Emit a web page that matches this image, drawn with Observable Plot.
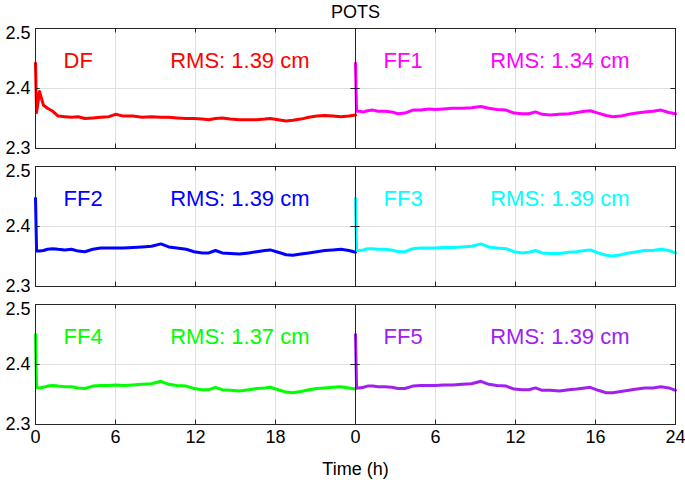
<!DOCTYPE html>
<html><head><meta charset="utf-8">
<script src="https://cdn.jsdelivr.net/npm/d3@7"></script>
<script src="https://cdn.jsdelivr.net/npm/@observablehq/plot@0.6"></script>
<style>body{margin:0;background:#fff;}</style>
</head><body><div id="chart"></div>
<script>
const seriesNames = ["DF", "FF1", "FF2", "FF3", "FF4", "FF5"];
const seriesColors = ["#ff0000", "#ff00ff", "#0000ff", "#00ffff", "#00ff00", "#a020f0"];
const rmsLabels = ["1.39", "1.34", "1.39", "1.39", "1.37", "1.39"];
const panelRow = [0, 0, 1, 1, 2, 2];
const panelCol = [0, 1, 0, 1, 0, 1];

const hours = [0, 0.08, 0.3, 0.6, 0.9, 1.3, 1.7, 2.2, 2.7, 3.2,
  3.7, 4.3, 4.9, 5.5, 6.0, 6.6, 7.3, 8.0, 8.7, 9.4,
  10.0, 10.6, 11.3, 11.9, 12.5, 13.0, 13.5, 14.0, 14.6, 15.3,
  16.0, 16.6, 17.2, 17.6, 18.2, 18.8, 19.3, 19.9, 20.5, 21.1,
  21.7, 22.3, 22.9, 23.5, 24];

const DF = [2.442, 2.36, 2.395, 2.372, 2.367, 2.362, 2.354, 2.353, 2.352, 2.353,
  2.35, 2.351, 2.352, 2.353, 2.357, 2.354, 2.354, 2.352, 2.353, 2.352,
  2.352, 2.351, 2.35, 2.35, 2.349, 2.348, 2.35, 2.351, 2.349, 2.348,
  2.348, 2.348, 2.349, 2.35, 2.348, 2.346, 2.347, 2.349, 2.352, 2.354,
  2.355, 2.354, 2.353, 2.354, 2.356];
const FF1 = [2.442, 2.362, 2.362, 2.361, 2.363, 2.364, 2.362, 2.362, 2.361, 2.358,
  2.359, 2.364, 2.364, 2.366, 2.365, 2.366, 2.367, 2.367, 2.368, 2.37,
  2.367, 2.365, 2.364, 2.359, 2.358, 2.358, 2.361, 2.357, 2.356, 2.357,
  2.358, 2.36, 2.362, 2.363, 2.359, 2.355, 2.353, 2.354, 2.357, 2.359,
  2.361, 2.362, 2.364, 2.36, 2.358];
const FF2 = [2.447, 2.359, 2.359, 2.36, 2.362, 2.363, 2.362, 2.361, 2.362, 2.359,
  2.358, 2.362, 2.364, 2.364, 2.364, 2.364, 2.365, 2.366, 2.367, 2.371,
  2.366, 2.364, 2.362, 2.358, 2.356, 2.356, 2.36, 2.356, 2.355, 2.354,
  2.356, 2.358, 2.36, 2.361, 2.357, 2.353, 2.352, 2.354, 2.356, 2.358,
  2.36, 2.361, 2.362, 2.36, 2.357];
const FF3 = [2.447, 2.36, 2.36, 2.361, 2.363, 2.363, 2.362, 2.362, 2.361, 2.358,
  2.358, 2.363, 2.364, 2.364, 2.364, 2.365, 2.365, 2.366, 2.367, 2.371,
  2.366, 2.364, 2.363, 2.358, 2.356, 2.357, 2.36, 2.356, 2.355, 2.355,
  2.357, 2.358, 2.36, 2.361, 2.356, 2.352, 2.351, 2.353, 2.356, 2.358,
  2.36, 2.36, 2.362, 2.36, 2.356];
const FF4 = [2.45, 2.362, 2.361, 2.362, 2.364, 2.365, 2.364, 2.363, 2.363, 2.361,
  2.36, 2.364, 2.365, 2.365, 2.366, 2.365, 2.366, 2.367, 2.368, 2.372,
  2.367, 2.365, 2.364, 2.36, 2.358, 2.358, 2.362, 2.358, 2.357, 2.356,
  2.358, 2.36, 2.361, 2.362, 2.358, 2.354, 2.353, 2.355, 2.358, 2.36,
  2.361, 2.362, 2.363, 2.361, 2.359];
const FF5 = [2.45, 2.361, 2.361, 2.362, 2.364, 2.364, 2.363, 2.363, 2.362, 2.36,
  2.36, 2.364, 2.365, 2.365, 2.365, 2.366, 2.366, 2.367, 2.368, 2.372,
  2.367, 2.365, 2.364, 2.359, 2.358, 2.358, 2.361, 2.357, 2.357, 2.356,
  2.358, 2.359, 2.361, 2.362, 2.357, 2.353, 2.353, 2.355, 2.357, 2.359,
  2.361, 2.361, 2.363, 2.361, 2.357];
const seriesValues = [DF, FF1, FF2, FF3, FF4, FF5];

const yTicksLower = [2.3, 2.4];
const yTicksUpper = [2.5];
const xTicks = [0, 6, 12, 18, 24, 30, 36, 42, 48];
const xTickLabels = ["0", "6", "12", "18", "0", "6", "12", "16", "24"];
const gridX = [6, 12, 18, 30, 36, 42];

const points = seriesNames.flatMap((name, i) => hours.map((h, j) => ({
  series: name, row: panelRow[i], x: h + 24 * panelCol[i], y: seriesValues[i][j]
})));
const labels = seriesNames.flatMap((name, i) => [
  {series: name, row: panelRow[i], x: 2.1 + 24 * panelCol[i], y: 2.446, text: name},
  {series: name, row: panelRow[i], x: 10.1 + 24 * panelCol[i], y: 2.446, text: `RMS: ${rmsLabels[i]} cm`}
]);

const tickLenY = 0.0075;
const tickLenX = 0.35;
const ySegs = [{x1: 0, x2: tickLenX}, {x1: 24 - tickLenX, x2: 24 + tickLenX}, {x1: 48 - tickLenX, x2: 48}];
const axisColor = "#262626";
const gridColor = "#e0e0e0";

const chart = Plot.plot({
  width: 685, height: 482,
  marginLeft: 35, marginRight: 10, marginTop: 27, marginBottom: 58,
  style: {fontFamily: "'Liberation Sans', Arial, Helvetica, sans-serif", fontSize: "17px", color: axisColor, background: "#fff"},
  x: {domain: [0, 48]},
  y: {domain: [2.3, 2.5]},
  fy: {domain: [0, 1, 2], paddingInner: 0.1336, paddingOuter: 0, axis: null},
  color: {domain: seriesNames, range: seriesColors},
  marks: [
    Plot.ruleX(gridX, {stroke: gridColor, strokeWidth: 1}),
    Plot.ruleY([2.4], {stroke: gridColor, strokeWidth: 1}),
    Plot.line(points, {x: "x", y: "y", z: "series", stroke: "series", fy: "row", strokeWidth: 3, strokeLinejoin: "round"}),
    Plot.ruleX(gridX, {x: d => d, y1: 2.3, y2: 2.3 + tickLenY, stroke: axisColor}),
    Plot.ruleX(gridX, {x: d => d, y1: 2.5 - tickLenY, y2: 2.5, stroke: axisColor}),
    Plot.ruleY(ySegs, {y: () => 2.4, x1: "x1", x2: "x2", stroke: axisColor}),
    Plot.ruleX([24], {stroke: axisColor}),
    Plot.frame({stroke: axisColor}),
    Plot.text(labels, {x: "x", y: "y", text: "text", fill: "series", fy: "row", textAnchor: "start", fontSize: 22}),
    Plot.text([{row: 0}], {fy: "row", x: () => 24, frameAnchor: "top", dy: -23, text: () => "POTS", fontSize: 18, fill: "#000"}),
    Plot.axisY({ticks: yTicksLower, tickFormat: d3.format(".1f"), tickSize: 0, tickPadding: 5, label: null, fill: "#000", fontSize: 18}),
    Plot.axisY({ticks: yTicksUpper, tickFormat: d3.format(".1f"), tickSize: 0, tickPadding: 5, label: null, fill: "#000", fontSize: 18, dy: 5}),
    Plot.axisX({ticks: xTicks, tickFormat: d => xTickLabels[xTicks.indexOf(d)], tickSize: 0, tickPadding: 6, fontSize: 18,
      label: "Time (h)", labelAnchor: "center", labelArrow: "none", labelOffset: 50, fill: "#000"})
  ]
});
document.getElementById("chart").appendChild(chart);
</script>
</body></html>
